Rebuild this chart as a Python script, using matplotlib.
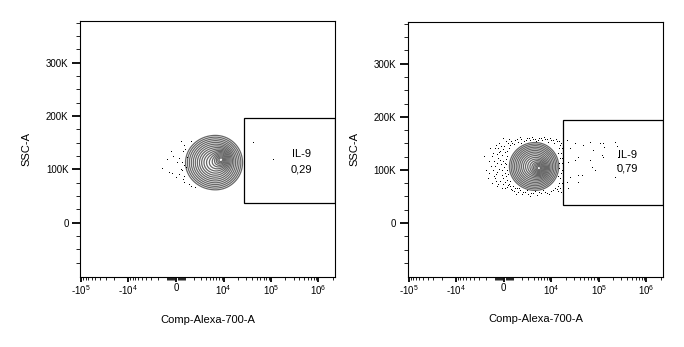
import numpy as np
import matplotlib
matplotlib.use("Agg")
import matplotlib.pyplot as plt
from matplotlib.patches import Rectangle

plt.rcParams['font.family'] = ['Liberation Sans', 'DejaVu Sans']
plt.rcParams['mathtext.fontset'] = 'custom'
plt.rcParams['mathtext.rm'] = 'Liberation Sans'
plt.rcParams['mathtext.default'] = 'regular'

# axis setup
LINW = 2000
XLIM = (-104700, 2240000)
YLIM = (-101000, 379000)
x_major = [-1e5, -1e4, 0, 1e4, 1e5, 1e6]
x_labels = ["-10$^5$", "-10$^4$", "0", "10$^4$", "10$^5$", "10$^6$"]
y_major = [0, 100000, 200000, 300000]
y_labels = ["0", "100K", "200K", "300K"]
x_title = "Comp-Alexa-700-A"
y_title = "SSC-A"

# gates
gate_name = ["IL-9", "IL-9"]
gate_freq = ["0,29", "0,79"]
gate_left = [27400, 17900]
gate_bottom = [36900, 33200]
gate_top = [195750, 194400]

# population components: x, y, spread left/right in decades, spread in SSC, weight
pop1 = [(6650, 112900, 0.21, 0.19, 17000, 1.0),
        (9340, 119500, 0.10, 0.08, 9000, 1.0)]
pop2 = [(4360, 106500, 0.18, 0.165, 15000, 1.0),
        (5620, 102600, 0.09, 0.075, 8000, 1.0)]
pops = [pop1, pop2]
outer_level = 0.0111
n_levels = 17

# outlier events
dots1_x = [460, 830, 1590, -520, -260, 720, 320, 70, -930, 560, 830, 1010, -1460,
           -660, -420, 620, 320, 830, 0, 720, 830, 1340, 1590, 2120, 460, 1090, 900,
           42400, 112000]
dots1_y = [150700, 144400, 151300, 132000, 123800, 132000, 119400, 112500, 117600,
           111400, 106900, 102000, 100700, 93800, 91300, 96900, 89400, 86300, 84400,
           80100, 73900, 70700, 66400, 64500, 98800, 120800, 136300,
           148900, 117600]

dots2_x = [-1430, -1200, -980, -1310, -1080, -760, -870, -1200, -660, -460, -360, -560,
           -260, -460, -170, -360, -70, 125, 30, 220, -70, 520, 420, 720, 1040, 1260,
           930, 1380, 1750, 320, 125, 320, -2210, -1930, -1670, 220, 620, -660, -870,
           -1550,
           830, 1150, 1500, 1880, 2310, 2780, 3300, 3910, 4590, 5360, 6250, 7260, 8450,
           9790, 11350, 13160, 15260, 1750,
           2160, 2780, 3490, 4360, 5360, 6580, 8030, 9790, 11940, 13840, 16030, 3300,
           14540, 16030, 15260, 16830, 14540, 16030, 15260, 16830, 13840, 16030,
           21150, 31650, 47400, 65600, 106500, 24840, 37200, 31650, 22880, 65600, 71200,
           83600, 37200, 43800, 24840, 21150, 37200, 115600, 75800, 22880, 125000,
           128000, 121000, 220600, 239300, 258600, 239300, 220600,
           -760, -560, -260, -70, 125, -170, -360, -70, 220, 30, -170, 125, -70, 320,
           125, 520, 320, -170, -560, -760, -980, -660, -870, -660, -460, -1080, -1550,
           420, 720, 620, 830, 1150, 1500, 1630, 2010, 2450, 2950, 3910, 4810, 5920,
           7260, 8880, 10820, 13160, 15260, 17500, 2610, 3130, 3690, 4360, 5080, 5920,
           6910, 8030, 9340, 10820, 12540, 14540, 16830, 13840, 16830, 14540, 16830,
           13840, 17500, 14540, 1880, 1040, 1380, 620, 520, 320, 220, 420]
dots2_y = [138800, 123800, 114400, 105000, 97500, 90000, 82500, 73100, 67500, 148100,
           133100, 120000, 108800, 99400, 88100, 76900, 71300, 63800, 142500, 151900,
           157500, 155600, 69400, 61900, 58100, 52500, 67500, 63800, 60000, 97500,
           110600, 123800, 123800, 97500, 82500, 86300, 76900, 110600, 138800, 114400,
           148100, 153800, 150000, 155600, 151900, 157500, 153800, 155600, 151900,
           157500, 153800, 155600, 150000, 153800, 148100, 151900, 144400, 159400,
           56300, 60000, 54400, 58100, 56300, 60000, 54400, 58100, 63800, 58100, 56300,
           48800,
           138800, 129400, 120000, 110600, 101300, 91900, 82500, 73100, 67500, 148100,
           154300, 148100, 144900, 151300, 148100, 138800, 123200, 116800, 113800,
           116800, 104400, 98100, 88700, 88700, 85700, 76300, 76300, 126200, 135600,
           63800, 148100, 141900, 123200, 151300, 143800, 123200, 107400, 85700,
           144400, 138800, 142500, 136900, 131300, 125600, 116300, 114400, 118100,
           103100, 97500, 91900, 82500, 78800, 75000, 71300, 65600, 63800, 71300, 76900,
           86300, 93800, 105000, 127500, 131300, 129400, 91900,
           148100, 151900, 67500, 60000, 63800, 56300, 63800, 52500, 56300, 52500,
           54400, 50600, 54400, 56300, 52500, 60000, 61900, 63800, 60000, 153800,
           157500, 159400, 155600, 153800, 157500, 159400, 155600, 157500, 153800,
           155600, 151900, 138800, 129400, 120000, 110600, 97500, 86300, 82500, 73100,
           148100, 146300, 155600, 144400, 138800, 133100, 108800, 90000]
dots_x = [dots1_x, dots2_x]
dots_y = [dots1_y, dots2_y]

LN10 = np.log(10)


def to_dec(v):
    return np.arcsinh(np.asarray(v, float) / LINW) / LN10


u = np.linspace(to_dec(XLIM[0]), to_dec(XLIM[1]), 700)
yy = np.linspace(YLIM[0], YLIM[1], 700)
U, Y = np.meshgrid(u, yy)
X = LINW * np.sinh(U * LN10)

minors_x = []
for n in range(2, 7):
    for k in range(2, 10):
        minors_x += [k * 10**n, -k * 10**n]
minors_x = [m for m in minors_x if XLIM[0] < m < XLIM[1]]
minors_y = [v for v in range(-100000, 380000, 25000) if v % 100000]

fig = plt.figure(figsize=(6.84, 3.47), dpi=100)
boxes = [[0.1170, 0.2026, 0.3728, 0.7378], [0.5960, 0.2026, 0.3733, 0.7349]]
ylabel_x = [-0.19, -0.187]
name_pos = [(0.868, 0.466), (0.862, 0.467)]
freq_pos = [(0.868, 0.406), (0.859, 0.411)]

for i in range(2):
    ax = fig.add_axes(boxes[i])
    ax.set_xscale('asinh', linear_width=LINW)
    ax.set_xlim(*XLIM)
    ax.set_ylim(*YLIM)

    Z = np.zeros_like(U)
    for cx, cy, sl, sr, sy, w in pops[i]:
        du = U - to_dec(cx)
        su = np.where(du < 0, sl, sr)
        Z += w * np.exp(-0.5 * ((du / su)**2 + ((Y - cy) / sy)**2))
    zmax = Z.max()
    r_out = np.sqrt(2 * np.log(zmax / outer_level))
    radii = np.linspace(0.3, r_out, n_levels)
    levels = np.sort(zmax * np.exp(-0.5 * radii**2))
    ax.contour(X, Y, Z, levels=levels, colors='#686868', linewidths=0.9)

    ax.plot(dots_x[i], dots_y[i], ',', color='black')

    ax.add_patch(Rectangle((gate_left[i], gate_bottom[i]), XLIM[1] - gate_left[i],
                           gate_top[i] - gate_bottom[i], fill=False,
                           edgecolor='black', lw=0.9, zorder=5))
    ax.text(*name_pos[i], gate_name[i], transform=ax.transAxes, ha='center',
            va='baseline', fontsize=8)
    ax.text(*freq_pos[i], gate_freq[i], transform=ax.transAxes, ha='center',
            va='baseline', fontsize=8)

    ax.set_xticks(x_major)
    ax.set_xticklabels(x_labels)
    ax.set_xticks(minors_x, minor=True)
    ax.set_yticks(y_major)
    ax.set_yticklabels(y_labels)
    ax.set_yticks(minors_y, minor=True)

    ax.tick_params(axis='x', which='major', direction='out', length=3.8, width=1.3,
                   labelsize=7, pad=1)
    ax.tick_params(axis='x', which='minor', direction='out', length=2.2, width=0.6)
    ax.tick_params(axis='y', which='major', direction='out', length=5.8, width=1.3,
                   labelsize=7, pad=2.5)
    ax.tick_params(axis='y', which='minor', direction='out', length=3, width=0.6)
    for s in ax.spines.values():
        s.set_linewidth(0.8)

    ax.set_xlabel(x_title, fontsize=8)
    ax.xaxis.set_label_coords(0.5, -0.148)
    ax.set_ylabel(y_title, fontsize=8)
    ax.yaxis.set_label_coords(ylabel_x[i], 0.5)

fig.savefig("out.png", dpi=100)
